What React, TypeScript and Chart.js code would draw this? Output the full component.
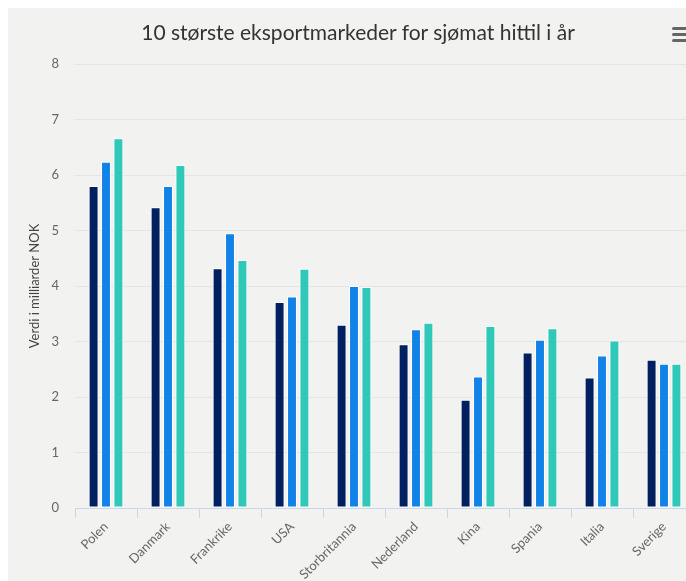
import React, { useEffect, useRef } from "react";
import { Chart, registerables } from "chart.js";

Chart.register(...registerables);

const TITLE = "10 største eksportmarkeder for sjømat hittil i år";
const Y_TITLE = "Verdi i milliarder NOK";
const categories = ["Polen", "Danmark", "Frankrike", "USA", "Storbritannia", "Nederland", "Kina", "Spania", "Italia", "Sverige"];
const series1 = [5.8, 5.42, 4.32, 3.71, 3.3, 2.95, 1.95, 2.8, 2.35, 2.67];
const series2 = [6.24, 5.8, 4.95, 3.81, 4.0, 3.22, 2.37, 3.03, 2.75, 2.6];
const series3 = [6.66, 6.18, 4.47, 4.31, 3.98, 3.34, 3.28, 3.24, 3.02, 2.6];
const seriesNames = ["Serie 1", "Serie 2", "Serie 3"];
const colors = ["#012060", "#1182e7", "#30c8b9"];
const yTicks = [0, 1, 2, 3, 4, 5, 6, 7, 8];

const FONT = "Lato, 'Noto Sans', sans-serif";

export default function App() {
  const ref = useRef<HTMLCanvasElement | null>(null);
  useEffect(() => {
    if (!ref.current) return;
    const all = [series1, series2, series3];
    const chart = new Chart(ref.current, {
      type: "bar",
      data: {
        labels: categories,
        datasets: all.map((d, i) => ({
          label: seriesNames[i],
          data: d,
          backgroundColor: colors[i],
          borderColor: "#ffffff",
          borderWidth: 1,
          borderSkipped: false,
          categoryPercentage: 0.6,
          barPercentage: 0.8,
        })),
      },
      options: {
        responsive: false,
        animation: false,
        layout: { padding: { left: 0, right: 13, top: 56, bottom: 0 } },
        plugins: {
          legend: { display: false },
          tooltip: { enabled: false },
          title: { display: false },
        },
        scales: {
          x: {
            grid: {
              display: true,
              drawOnChartArea: false,
              drawTicks: true,
              tickLength: 10,
              color: "#ccd6eb",
              offset: true,
            },
            border: { display: true, color: "#ccd6eb", width: 1 },
            ticks: {
              color: "#666666",
              font: { family: FONT, size: 13 },
              minRotation: 45,
              maxRotation: 45,
              padding: 1,
              autoSkip: false,
            },
            afterFit: (s: any) => {
              s.height = 73;
            },
          },
          y: {
            min: 0,
            max: 8,
            afterBuildTicks: (s: any) => {
              s.ticks = yTicks.map((v) => ({ value: v }));
            },
            grid: { color: "#e4e5e3", drawTicks: false, lineWidth: 1 },
            border: { display: false },
            ticks: {
              color: "#666666",
              font: { family: FONT, size: 13 },
              padding: 16,
            },
            title: {
              display: true,
              text: Y_TITLE,
              color: "#444444",
              font: { family: FONT, size: 13, lineHeight: 1.2 },
              padding: { top: 19, bottom: 0 },
            },
            afterFit: (s: any) => {
              s.width = 67;
            },
          },
        },
      },
    });
    return () => chart.destroy();
  }, []);

  return (
    <div
      style={{
        position: "fixed",
        left: 8,
        top: 8,
        width: 678,
        height: 573,
        overflow: "hidden",
        background: "#f2f3f1",
      }}
    >
      <canvas ref={ref} width={700} height={573} style={{ display: "block", width: 700, height: 573 }} />
      <div
        style={{
          position: "absolute",
          left: 0,
          top: 12,
          width: 700,
          textAlign: "center",
          fontFamily: FONT,
          fontSize: 21,
          lineHeight: "24px",
          color: "#333333",
          whiteSpace: "nowrap",
        }}
      >
        {TITLE}
      </div>
      <div style={{ position: "absolute", left: 664, top: 19, width: 18 }}>
        {[0, 1, 2].map((i) => (
          <div
            key={i}
            style={{ height: 3, background: "#666666", borderRadius: 1.5, marginBottom: 3 }}
          />
        ))}
      </div>
    </div>
  );
}
